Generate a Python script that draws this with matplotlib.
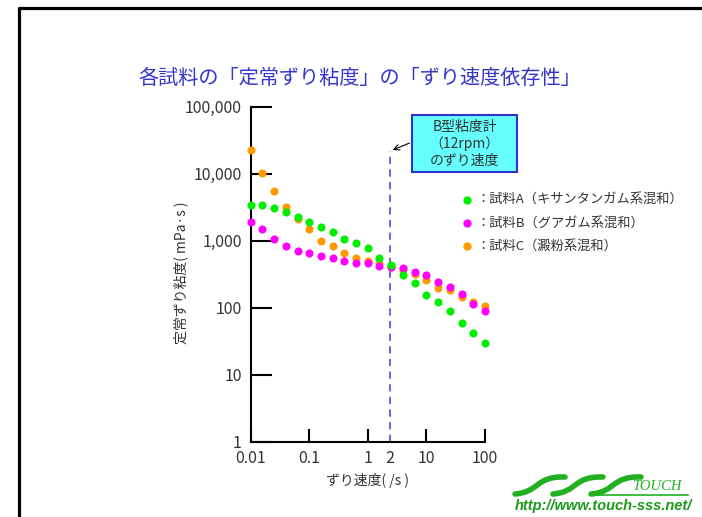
import numpy as np
import matplotlib
matplotlib.use('Agg')
import matplotlib.pyplot as plt
from matplotlib.lines import Line2D
from matplotlib.patches import Rectangle, PathPatch
from matplotlib.path import Path

plt.rcParams['font.family'] = ['Noto Sans CJK JP', 'DejaVu Sans']

# データ
shear_rate = [0.01, 0.0158, 0.0251, 0.0398, 0.0631, 0.1, 0.158, 0.251, 0.398, 0.631,
              1, 1.58, 2.51, 3.98, 6.31, 10, 15.8, 25.1, 39.8, 63.1, 100]
visc_A = [3410, 3410, 3110, 2650, 2230, 1920, 1620, 1360, 1060, 914,
          770, 557, 434, 308, 239, 158, 123, 89, 60, 42, 30]
visc_B = [1920, 1500, 1060, 834, 710, 649, 597, 557, 503, 469,
          460, 419, 405, 395, 337, 308, 244, 206, 160, 116, 89]
visc_C = [22600, 10100, 5570, 3150, 2090, 1480, 990, 834, 649, 557,
          503, 460, 401, 365, 315, 259, 201, 184, 146, 123, 107]
labels = ['：試料A（キサンタンガム系混和）', '：試料B（グアガム系混和）', '：試料C（澱粉系混和）']
colors = ['#00ee00', '#ff00ff', '#ff9900']

b_rate = 2.4          # B型粘度計(12rpm)のずり速度
b_top = 21800

xticks = [0.01, 0.1, 1, b_rate, 10, 100]
xticklabels = ['0.01', '0.1', '1', '2', '10', '100']
yticks = [1, 10, 100, 1000, 10000, 100000]
yticklabels = ['1', '10', '100', '1,000', '10,000', '100,000']

W, H = 702, 517
fig = plt.figure(figsize=(W / 100, H / 100), dpi=100)

def fx(px):
    return px / W

def fy(py):
    return 1 - py / H

ax = fig.add_axes([fx(250.7), fy(442), fx(485) - fx(250.7), fy(106.7) - fy(442)])
ax.set_xscale('log')
ax.set_yscale('log')
ax.set_xlim(0.01, 100)
ax.set_ylim(1, 100000)

# 点の描画
for vals, c in [(visc_C, colors[2]), (visc_B, colors[1]), (visc_A, colors[0])]:
    ax.scatter(shear_rate, vals, s=34, color=c, linewidths=0, zorder=3, clip_on=False)

# B型粘度計のライン
ax.plot([b_rate, b_rate], [1, b_top], color='#5a5ae0', lw=1.3, ls=(0, (4, 3)), zorder=2)

for s in ['top', 'right']:
    ax.spines[s].set_visible(False)
for s in ['left', 'bottom']:
    ax.spines[s].set_linewidth(1.5)

ax.set_xticks(xticks)
ax.set_xticklabels(xticklabels)
ax.set_yticks(yticks)
ax.set_yticklabels(yticklabels)
ax.minorticks_off()
ax.tick_params(axis='y', direction='in', length=15, width=1.5, pad=6.5,
               labelsize=11.5, labelcolor='#333333')
ax.tick_params(axis='x', direction='in', length=9.5, width=1.5, pad=6,
               labelsize=11.5, labelcolor='#333333')
ax.xaxis.get_major_ticks()[3].tick1line.set_markersize(0)

# タイトル・軸ラベル
fig.text(fx(360), fy(78), '各試料の「定常ずり粘度」の「ずり速度依存性」',
         ha='center', va='center', fontsize=14.5, color='#3535cc')
fig.text(fx(181), fy(273), '定常ずり粘度( mPa·s )', rotation=90,
         ha='center', va='center', fontsize=10, color='#333333')
fig.text(fx(368), fy(480), 'ずり速度( /s )', ha='center', va='center',
         fontsize=10, color='#333333')

# 凡例
for i, (lab, c) in enumerate(zip(labels, colors)):
    yy = 199.5 + i * 23.3
    fig.add_artist(Line2D([fx(467.3)], [fy(yy)], marker='o', markersize=6,
                          color=c, markeredgewidth=0, linestyle='none'))
    fig.text(fx(476), fy(yy), lab, ha='left', va='center', fontsize=9.5,
             color='#333333')

# B型粘度計の注記
fig.add_artist(Rectangle((fx(412), fy(172)), fx(517) - fx(412), fy(115) - fy(172),
                         transform=fig.transFigure, facecolor='#66ffff',
                         edgecolor='#3333cc', lw=1.5))
for j, t in enumerate(['B型粘度計', '（12rpm）', 'のずり速度']):
    fig.text(fx(464.5), fy(127 + j * 17), t, ha='center', va='center',
             fontsize=10, color='#333333')
ax.annotate('', xy=(b_rate, b_top), xycoords='data',
            xytext=(fx(412), fy(142)), textcoords='figure fraction',
            arrowprops=dict(arrowstyle='->', color='black', lw=0.8))

# 枠線
fig.add_artist(Line2D([fx(18.5), fx(18.5), fx(702)], [fy(517), fy(7.5), fy(7.5)],
                      color='black', lw=2.3))

# ロゴ
green = '#22b022'
for k in range(3):
    x0 = 515 + 38 * k
    verts = [(fx(x0), fy(494)), (fx(x0 + 25), fy(492)), (fx(x0 + 20), fy(476)),
             (fx(x0 + 50), fy(477))]
    pth = Path(verts, [Path.MOVETO, Path.CURVE4, Path.CURVE4, Path.CURVE4])
    fig.add_artist(PathPatch(pth, transform=fig.transFigure, facecolor='none',
                             edgecolor=green, lw=4, capstyle='round'))
fig.add_artist(Line2D([fx(590), fx(688)], [fy(495), fy(495)], color=green, lw=1.2))
fig.text(fx(632), fy(487), 'TOUCH', ha='left', va='center', fontsize=10.5,
         style='italic', color=green, family='Liberation Serif')
fig.text(fx(692), fy(506), 'http://www.touch-sss.net/', ha='right', va='center',
         fontsize=10.5, style='italic', weight='bold', color='#1a9a1a',
         family='Liberation Sans')

fig.savefig('out.png', dpi=100)
